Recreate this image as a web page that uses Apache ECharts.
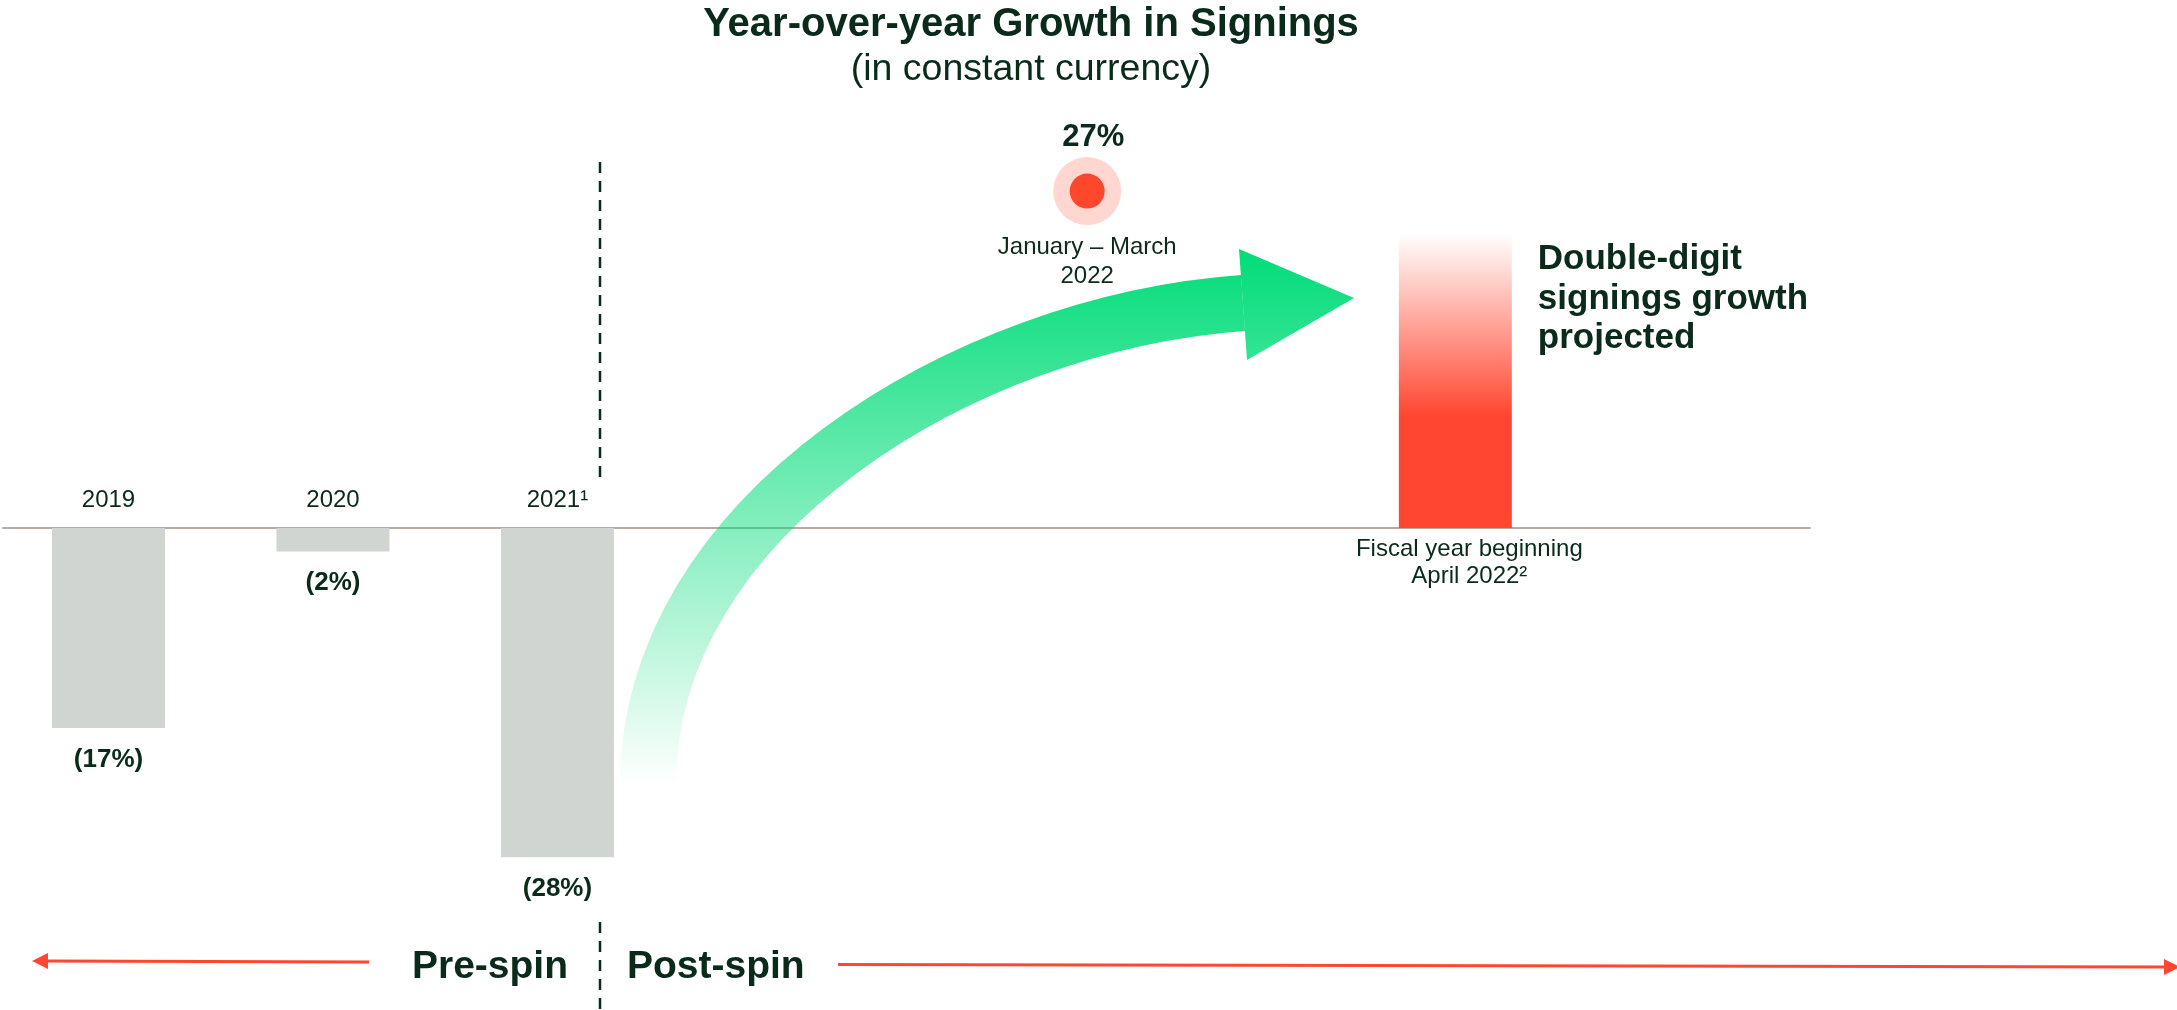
<!DOCTYPE html>
<html>
<head>
<meta charset="utf-8">
<script src="https://cdn.jsdelivr.net/npm/echarts@6/dist/echarts.min.js"></script>
<style>
  html, body { margin: 0; padding: 0; background: #ffffff; }
  #chart { width: 2177px; height: 1010px; }
</style>
</head>
<body>
<div id="chart"></div>
<script>
// ---------------- data ----------------
const periods = ['2019', '2020', '2021¹', 'January – March\n2022', 'Fiscal year beginning\nApril 2022²'];
const periodSlots = [0, 1, 2, 4.36, 6];          // position of each period on the timeline axis
const growthHistory = [-17, -2, -28];              // YoY growth in signings, %
const historyLabels = ['(17%)', '(2%)', '(28%)'];
const growthQ1 = 27;                               // January – March 2022, %
const q1Label = '27%';
const growthProjected = 25;                        // projected bar (double-digit)
const projectionNote = 'Double-digit\nsignings growth\nprojected';
const titleText = 'Year-over-year Growth in Signings';
const subtitleText = '(in constant currency)';
const phaseLabels = ['Pre-spin', 'Post-spin'];

// ---------------- styles ----------------
const TEXT = '#0a2a1a';
const FONT = '"Liberation Sans", Arial, Helvetica, sans-serif';
const GREY = '#d0d5d1';
const RED = '#ff4630';

const chart = echarts.init(document.getElementById('chart'), null, { renderer: 'canvas' });

const barData = growthHistory.map((v, i) => ({ value: [periodSlots[i], v] }));
barData.push({
  value: [periodSlots[4], growthProjected],
  itemStyle: {
    color: {
      type: 'linear', x: 0, y: 0, x2: 0, y2: 1,
      colorStops: [
        { offset: 0, color: 'rgba(255,70,48,0)' },
        { offset: 0.62, color: 'rgba(255,70,48,1)' },
        { offset: 1, color: 'rgba(255,70,48,1)' }
      ]
    }
  },
  label: {
    show: true,
    position: [139, 6],
    align: 'left',
    verticalAlign: 'top',
    formatter: projectionNote,
    fontSize: 35,
    lineHeight: 39.5,
    fontWeight: 'bold',
    color: TEXT,
    fontFamily: FONT
  }
});

const periodLabelData = growthHistory.map((v, i) => ({
  value: [periodSlots[i], 0],
  label: { position: 'top', distance: 14, formatter: periods[i] }
}));
periodLabelData.push({
  value: [periodSlots[4], 0],
  label: { position: 'bottom', distance: 7, offset: [14, 0], formatter: periods[4] }
});

const arrowGradient = {
  type: 'linear', global: true, x: 0, y: 249, x2: 0, y2: 785,
  colorStops: [
    { offset: 0, color: 'rgba(0,220,120,1)' },
    { offset: 1, color: 'rgba(0,220,120,0)' }
  ]
};

const option = {
  backgroundColor: '#ffffff',
  animation: false,
  textStyle: { fontFamily: FONT },
  title: [
    {
      text: titleText, left: 1031, top: 25, padding: 0,
      textAlign: 'center', textVerticalAlign: 'middle',
      textStyle: { fontSize: 40, fontWeight: 'bold', color: TEXT, fontFamily: FONT }
    },
    {
      text: subtitleText, left: 1031, top: 70, padding: 0,
      textAlign: 'center', textVerticalAlign: 'middle',
      textStyle: { fontSize: 37.5, fontWeight: 'normal', color: TEXT, fontFamily: FONT }
    }
  ],
  grid: { left: 3, top: 57.6, width: 1807, height: 940.8, containLabel: false },
  xAxis: {
    type: 'value', min: -0.47, max: 7.58,
    axisLine: { show: true, onZero: true, lineStyle: { color: '#b7aba2', width: 2 } },
    axisTick: { show: false }, axisLabel: { show: false }, splitLine: { show: false }
  },
  yAxis: [
    { type: 'value', min: -40, max: 40, show: false, splitLine: { show: false } },
    { type: 'value', min: -37.7, max: 37.7, show: false, splitLine: { show: false } }
  ],
  series: [
    {
      name: 'growth', type: 'bar', barWidth: 113,
      itemStyle: { color: GREY },
      data: barData,
      z: 2
    },
    {
      name: 'value labels', type: 'scatter', symbolSize: 1,
      itemStyle: { color: 'rgba(0,0,0,0)', opacity: 1 },
      data: growthHistory.map((v, i) => [periodSlots[i], v]),
      label: {
        show: true, position: 'bottom', distance: 18,
        formatter: (p) => historyLabels[p.dataIndex],
        fontSize: 26, fontWeight: 'bold', color: TEXT, fontFamily: FONT
      },
      z: 5
    },
    {
      name: 'period labels', type: 'scatter', symbolSize: 1,
      itemStyle: { color: 'rgba(0,0,0,0)', opacity: 1 },
      data: periodLabelData,
      label: {
        show: true, fontSize: 24, lineHeight: 27, color: TEXT, fontFamily: FONT, align: 'center'
      },
      z: 5
    },
    {
      name: 'q1 halo', type: 'scatter', yAxisIndex: 1, symbolSize: 68,
      itemStyle: { color: '#ffd6d0', opacity: 1 },
      data: [[periodSlots[3], growthQ1]],
      label: {
        show: true, position: 'top', distance: 4, offset: [6, 0], formatter: q1Label,
        fontSize: 31, fontWeight: 'bold', color: TEXT, fontFamily: FONT
      },
      z: 4
    },
    {
      name: 'q1', type: 'scatter', yAxisIndex: 1, symbolSize: 35,
      itemStyle: { color: '#ff472e', opacity: 1 },
      data: [[periodSlots[3], growthQ1]],
      label: {
        show: true, position: 'bottom', distance: 24, formatter: periods[3],
        fontSize: 24, lineHeight: 29, color: TEXT, fontFamily: FONT, align: 'center'
      },
      z: 5
    }
  ],
  graphic: [
    // spin-off divider
    { type: 'line', shape: { x1: 600, y1: 162, x2: 600, y2: 483 },
      style: { stroke: TEXT, lineWidth: 2.5, lineDash: [11, 8] }, z: 3 },
    { type: 'line', shape: { x1: 600, y1: 922, x2: 600, y2: 1010 },
      style: { stroke: TEXT, lineWidth: 2.5, lineDash: [11, 8] }, z: 3 },
    // growth arrow
    { type: 'bezierCurve',
      shape: { x1: 648, y1: 785, cpx1: 648, cpy1: 515, cpx2: 964, cpy2: 323, x2: 1243, y2: 303 },
      style: { stroke: arrowGradient, lineWidth: 56, fill: null, lineCap: 'butt' }, z: 1 },
    { type: 'polygon',
      shape: { points: [[1239, 249], [1354, 298], [1247, 360]] },
      style: { fill: arrowGradient }, z: 1 },
    // pre/post spin arrows
    { type: 'line', shape: { x1: 369, y1: 962, x2: 46, y2: 961 },
      style: { stroke: RED, lineWidth: 3 }, z: 3 },
    { type: 'polygon', shape: { points: [[32, 961], [48, 953], [48, 969]] },
      style: { fill: RED }, z: 3 },
    { type: 'line', shape: { x1: 838, y1: 964.5, x2: 2166, y2: 967 },
      style: { stroke: RED, lineWidth: 3 }, z: 3 },
    { type: 'polygon', shape: { points: [[2164, 959], [2180, 967], [2164, 975]] },
      style: { fill: RED }, z: 3 },
    { type: 'text', x: 568, y: 967,
      style: { text: phaseLabels[0], fill: TEXT, font: 'bold 39px ' + FONT, textAlign: 'right', textVerticalAlign: 'middle' }, z: 3 },
    { type: 'text', x: 627, y: 967,
      style: { text: phaseLabels[1], fill: TEXT, font: 'bold 39px ' + FONT, textAlign: 'left', textVerticalAlign: 'middle' }, z: 3 }
  ]
};

chart.setOption(option);
</script>
</body>
</html>
